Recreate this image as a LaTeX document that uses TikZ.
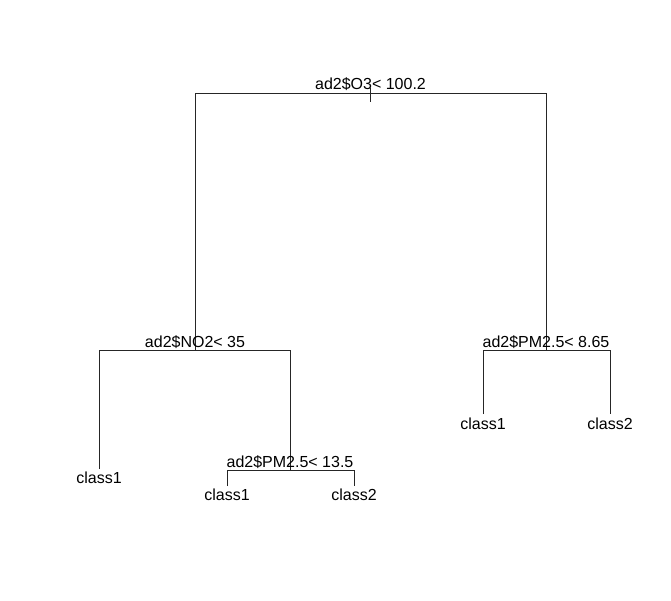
\documentclass[tikz,border=0pt]{standalone}
\usepackage{fontspec}
\setmainfont{Liberation Sans}
\begin{document}
\begin{tikzpicture}[x=1pt,y=-1pt,
  lbl/.style={anchor=base,inner sep=0pt,font=\fontsize{16}{19}\selectfont},
  br/.style={draw=black!85,line width=0.8pt}]
\useasboundingbox[fill=white] (0,0) rectangle (671,600);
% node points
\coordinate (root) at (370.5,93.5);
\coordinate (n2) at (195,93.5);
\coordinate (n3) at (546,93.5);
\coordinate (n2b) at (195,350.5);
\coordinate (n3b) at (546,350.5);
\coordinate (l4) at (99,350.5);
\coordinate (n5) at (290,350.5);
\coordinate (l4b) at (99,469);
\coordinate (n5b) at (290,470.5);
\coordinate (l10) at (227,470.5);
\coordinate (l11) at (354,470.5);
\coordinate (l10b) at (227,486);
\coordinate (l11b) at (354,486);
\coordinate (l6) at (483,350.5);
\coordinate (l7) at (610,350.5);
\coordinate (l6b) at (483,414);
\coordinate (l7b) at (610,414);
\coordinate (tickT) at (370.5,88);
\coordinate (tickB) at (370.5,102);
% branches
\draw[br] (n2b) -- (n2) -- (n3) -- (n3b);
\draw[br] (tickT) -- (tickB);
\draw[br] (l4b) -- (l4) -- (n5) -- (n5b);
\draw[br] (l10b) -- (l10) -- (l11) -- (l11b);
\draw[br] (l6b) -- (l6) -- (l7) -- (l7b);
% labels
\node[lbl] (troot) at (370.5,89.7) {ad2\$O3< 100.2};
\node[lbl] (tn2) at (195,347) {ad2\$NO2< 35};
\node[lbl] (tn3) at (546,347) {ad2\$PM2.5< 8.65};
\node[lbl] (tn5) at (290,467) {ad2\$PM2.5< 13.5};
\node[lbl] (tl4) at (99,483.3) {class1};
\node[lbl] (tl10) at (227,500) {class1};
\node[lbl] (tl11) at (354,500) {class2};
\node[lbl] (tl6) at (483,429) {class1};
\node[lbl] (tl7) at (610,429) {class2};
\end{tikzpicture}
\end{document}
